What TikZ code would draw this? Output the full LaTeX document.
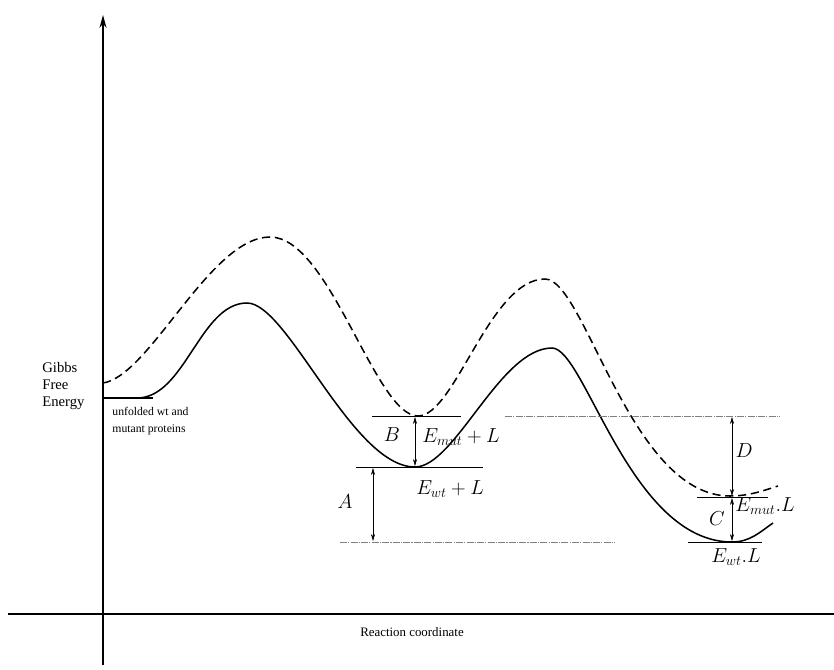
\documentclass[tikz,border=0pt]{standalone}
\usepackage{fontspec}
\setmainfont{Liberation Serif}
\usepackage{amsmath}
\usetikzlibrary{arrows.meta,positioning}

\begin{document}
\begin{tikzpicture}[
    x=0.03cm, y=-0.03cm,
    every node/.style={inner sep=1pt},
    txt/.style={font=\fontsize{11}{14.5}\selectfont, align=left},
    small/.style={font=\fontsize{10}{14.5}\selectfont, align=left},
    lbl/.style={font=\fontsize{17}{19}\selectfont},
    axis/.style={line width=1.2pt},
    wt/.style={line width=1.3pt},
    mut/.style={line width=1.3pt, dash pattern=on 7pt off 4pt},
    level/.style={line width=0.6pt},
    reflevel/.style={gray, line width=0.5pt, dash pattern=on 6pt off 1pt on 1pt off 1pt},
    gap/.style={line width=0.5pt, {Stealth[length=6pt,width=3.5pt]}-{Stealth[length=6pt,width=3.5pt]}}
]
\useasboundingbox (0,0) rectangle (834,670);

% Axes
\coordinate (origin) at (103,614);
\coordinate (ytop) at (103,15);
\draw[axis, -{Stealth[length=11pt,width=6pt]}] (103,665) -- (ytop);
\draw[axis] (8,614) -- (834,614);
\node[txt, font=\fontsize{12.5}{14.5}\selectfont, anchor=north west] (ylabel) at (41,361) {Gibbs\\Free\\Energy};
\node[txt] (xlabel) at (412,632) {Reaction coordinate};

% Unfolded state
\coordinate (u0) at (103,398);
\coordinate (u1) at (153,398);
\draw[wt] (u0) -- (u1);
\node[small, anchor=north west] (unfold) at (111,406) {unfolded wt and\\mutant proteins};

% Wild type curve
\draw[wt] (103,398) -- (137,398)
    .. controls (185,398) and (200,303) .. (247,303)
    .. controls (288,303) and (352,467) .. (415,467)
    .. controls (455,467) and (500,348) .. (552,348)
    .. controls (585,348) and (630,542) .. (732,542)
    .. controls (750,542) and (760,532) .. (773,523);

% Mutant curve
\draw[mut] (103,383)
    .. controls (150,376) and (210,237) .. (270,237)
    .. controls (330,237) and (375,416) .. (418,416)
    .. controls (455,416) and (490,279) .. (545,279)
    .. controls (585,279) and (630,496) .. (730,496)
    .. controls (750,496) and (765,490) .. (778,486);

% Energy levels
\coordinate (mutL1) at (372,416);  \coordinate (mutL2) at (461,416);
\coordinate (wtL1) at (356,467);   \coordinate (wtL2) at (483,467);
\coordinate (ref1) at (340,542);   \coordinate (ref2) at (615,542);
\coordinate (top1) at (505,416);   \coordinate (top2) at (780,416);
\coordinate (mutB1) at (697,497);  \coordinate (mutB2) at (768,497);
\coordinate (wtB1) at (688,542);   \coordinate (wtB2) at (762,542);
\draw[level] (mutL1) -- (mutL2);
\draw[level] (wtL1) -- (wtL2);
\draw[reflevel] (ref1) -- (ref2);
\draw[reflevel] (top1) -- (top2);
\draw[level] (mutB1) -- (mutB2);
\draw[level] (wtB1) -- (wtB2);

% Gaps
\draw[gap] (415,417) -- (415,466);
\draw[gap] (373,468) -- (373,541);
\draw[gap] (732,417) -- (732,496);
\draw[gap] (732,498) -- (732,541);

% Labels
\node[lbl] (B) at (392,435) {$B$};
\node[lbl] (A) at (345,502) {$A$};
\node[lbl] (D) at (744,451) {$D$};
\node[lbl] (C) at (717,519) {$C$};
\node[lbl, anchor=west] (Emut) at (421,437) {$E_{mut}+L$};
\node[lbl] (Ewt) at (450,489) {$E_{wt}+L$};
\node[lbl, anchor=west] (Emutb) at (734,506) {$E_{mut}.L$};
\node[lbl] (Ewtb) at (736,557) {$E_{wt}.L$};

\end{tikzpicture}
\end{document}
